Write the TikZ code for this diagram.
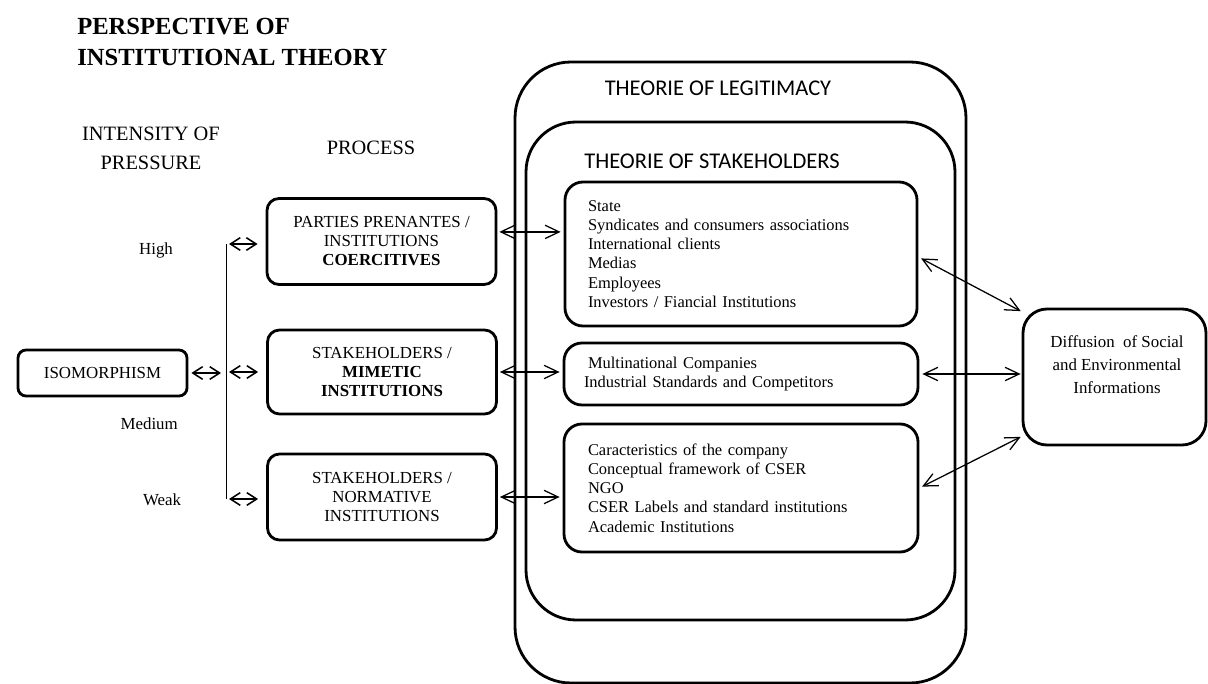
\documentclass[tikz,border=0pt]{standalone}
\usepackage{fontspec}
\setmainfont{Liberation Serif}
\newfontfamily\calibri{Carlito}
\usetikzlibrary{arrows.meta,positioning,calc}

\begin{document}
\begin{tikzpicture}[
  pbox/.style={
    draw, line width=2pt, rounded corners=0.3cm,
    minimum width=5.725cm, minimum height=2.15cm,
    align=center, font=\fontsize{12}{13.5}\selectfont
  },
  gbox/.style={
    draw, line width=2pt, rounded corners=0.45cm,
    text width=7.65cm, inner xsep=0.6cm, align=left,
    font=\fontsize{11.7}{13.7}\selectfont
  },
  theory/.style={draw, line width=2pt, inner sep=0pt},
  hd/.style={align=center, font=\fontsize{14.5}{20.6}\selectfont},
  lvl/.style={font=\fontsize{12}{14}\selectfont},
  sarr/.style={{Straight Barb[length=7pt,width=9pt]}-{Straight Barb[length=7pt,width=9pt]}, line width=1.1pt},
  arr/.style={{Straight Barb[length=10pt,width=9.5pt]}-{Straight Barb[length=10pt,width=9.5pt]}, line width=0.9pt}
]
  \useasboundingbox (0,0) rectangle (30.2,-17.1);

  % Theory frames
  \node[theory, rounded corners=1.4cm, minimum width=11.275cm, minimum height=15.525cm] (legit) at (18.5125,-9.3125) {};
  \node[theory, rounded corners=1.25cm, minimum width=10.725cm, minimum height=12.45cm] (stake) at (18.5125,-9.275) {};
  \node[font=\calibri\fontsize{16}{19}\selectfont] (legitT) at (17.95,-2.2) {THEORIE OF LEGITIMACY};
  \node[font=\calibri\fontsize{16}{19}\selectfont] (stakeT) at (17.8,-4.025) {THEORIE OF STAKEHOLDERS};

  % Headings
  \node[anchor=west, align=left, inner sep=0pt, font=\bfseries\fontsize{17.5}{22}\selectfont] (title) at (1.925,-1.05)
    {PERSPECTIVE OF\\INSTITUTIONAL THEORY};
  \node[hd] (intens) at (3.775,-3.7) {INTENSITY OF\\PRESSURE};
  \node[hd] (procT)  at (9.275,-3.7) {PROCESS};

  % Pressure levels
  \node[lvl] (high) at (3.9,-6.25)  {High};
  \node[lvl] (med)  at (3.73,-10.6) {Medium};
  \node[lvl] (weak) at (4.05,-12.5) {Weak};

  \node[draw, line width=2pt, rounded corners=0.2cm, minimum width=4.225cm, minimum height=1.15cm,
    font=\fontsize{12}{14}\selectfont] (isom) at (2.5625,-9.325) {ISOMORPHISM};

  % Process boxes
  \node[pbox] (coerc) at (9.5375,-6.0375) {PARTIES PRENANTES /\\INSTITUTIONS\\\textbf{COERCITIVES}};
  \node[pbox, minimum height=2.1cm] (mimet) at (9.55,-9.3) {STAKEHOLDERS /\\\textbf{MIMETIC}\\\textbf{INSTITUTIONS}};
  \node[pbox] (norm)  at (9.55,-12.425) {STAKEHOLDERS /\\NORMATIVE\\INSTITUTIONS};

  % Stakeholder groups
  \node[gbox, minimum height=3.6cm, inner xsep=0.575cm] (grpC) at (18.525,-6.35)
    {State\\Syndicates and consumers associations\\International clients\\Medias\\Employees\\Investors / Fiancial Institutions};
  \node[gbox, minimum height=1.55cm, inner xsep=0.5cm, text width=7.85cm] (grpM) at (18.525,-9.35)
    {\hspace*{0.1cm}Multinational Companies\\Industrial Standards and Competitors};
  \node[gbox, minimum height=3.2cm] (grpN) at (18.525,-12.2)
    {Caracteristics of the company\\Conceptual framework of CSER\\NGO\\CSER Labels and standard institutions\\Academic Institutions};

  \node[draw, line width=2pt, rounded corners=0.6cm, minimum width=4.575cm, minimum height=3.4cm] (diff) at (27.8625,-9.425) {};
  \node[align=center, font=\fontsize{12}{16.4}\selectfont] (diffT) at (27.925,-9.125)
    {Diffusion \ of Social\\and Environmental\\Informations};

  % Bar
  \coordinate (barT) at (5.65,-6.1);
  \coordinate (barM) at (5.65,-9.3);
  \coordinate (barB) at (5.65,-12.475);
  \draw[line width=0.7pt] (barT) -- (barB);

  \draw[sarr, shorten <=0.075cm, shorten >=0.125cm] (isom.east) -- (isom.east -| barM);
  \draw[sarr, shorten <=0.075cm, shorten >=0.2cm] (barT) -- (barT -| coerc.west);
  \draw[sarr, shorten <=0.075cm, shorten >=0.2cm] (barM) -- (barM -| mimet.west);
  \draw[sarr, shorten <=0.075cm, shorten >=0.2cm] (barB) -- (barB -| norm.west);

  \draw[arr, shorten <=0.05cm, shorten >=0.075cm] ([yshift=0.24cm]coerc.east) -- ([yshift=0.24cm]coerc.east -| grpC.west);
  \draw[arr, shorten <=0.05cm, shorten >=0.075cm] (mimet.east) -- (mimet.east -| grpM.west);
  \draw[arr, shorten <=0.05cm, shorten >=0.075cm] (norm.east) -- (norm.east -| grpN.west);

  \draw[arr, shorten <=0.075cm, shorten >=0.025cm] ([yshift=-0.075cm]grpC.east) -- ([yshift=-0.1cm]diff.north west);
  \draw[arr, shorten <=0.075cm, shorten >=0.025cm] (grpM.east) -- (grpM.east -| diff.west);
  \draw[arr, shorten <=0.075cm, shorten >=0.025cm] (grpN.east) -- ([yshift=0.25cm]diff.south west);
\end{tikzpicture}
\end{document}
